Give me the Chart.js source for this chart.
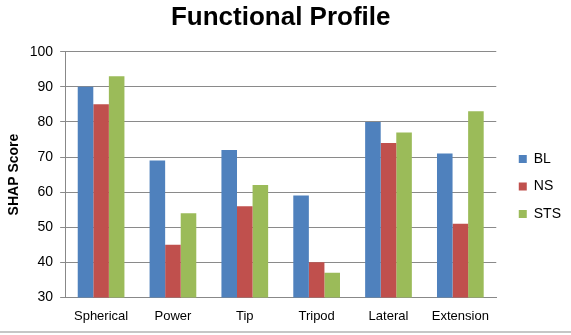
<!DOCTYPE html>
<html>
<head>
<meta charset="utf-8">
<script src="https://cdn.jsdelivr.net/npm/chart.js@4/dist/chart.umd.min.js"></script>
<style>
  html, body { margin: 0; padding: 0; background: #fff; }
  #wrap { position: relative; width: 571px; height: 335px; }
  #line { position: absolute; left: 0; top: 331px; width: 571px; height: 2px; background: #c6c6c6; }
</style>
</head>
<body>
<div id="wrap">
  <canvas id="c" width="571" height="335"></canvas>
  <div id="line"></div>
</div>
<script>
// grip types and SHAP scores per group
const categories = ['Spherical', 'Power', 'Tip', 'Tripod', 'Lateral', 'Extension'];
const blScores  = [90, 69, 72, 59, 80, 71];
const nsScores  = [85, 45, 56, 40, 74, 51];
const stsScores = [93, 54, 62, 37, 77, 83];
const yTicks = [30, 40, 50, 60, 70, 80, 90, 100];

const font = 'Liberation Sans, Arial, sans-serif';

const chart = new Chart(document.getElementById('c'), {
    type: 'bar',
    data: {
        labels: categories,
        datasets: [
            { label: 'BL', data: blScores, backgroundColor: '#4f81bd' },
            { label: 'NS', data: nsScores, backgroundColor: '#c0504d' },
            { label: 'STS', data: stsScores, backgroundColor: '#9bbb59' },
        ]
    },
    options: {
        responsive: false, animation: false,
        layout: { padding: { left: 6, right: 0, top: 2, bottom: 3 } },
        datasets: { bar: { categoryPercentage: 0.65, barPercentage: 1.0 } },
        scales: {
            x: {
                grid: { display: false, tickLength: 3 },
                border: { display: true, color: '#888', width: 1 },
                ticks: { color: '#000', font: { family: font, size: 13 }, padding: 8 }
            },
            y: {
                min: 30, max: 100,
                afterBuildTicks: s => { s.ticks = yTicks.map(v => ({ value: v })); },
                grid: { color: '#8a8a8a', lineWidth: 1, tickLength: 5 },
                border: { display: true, color: '#888', width: 1 },
                ticks: { color: '#000', font: { family: font, size: 14 }, padding: 7 },
                title: { display: true, text: 'SHAP Score', color: '#000', font: { family: font, size: 14, weight: 'bold' }, padding: { top: 0, bottom: 0 } }
            },
            // empty spacer between plot and legend
            gap: {
                position: 'right', display: true,
                grid: { display: false, drawTicks: false }, border: { display: false },
                ticks: { display: false },
                afterFit: s => { s.width = 9; }
            }
        },
        plugins: {
            title: { display: true, fullSize: false, text: 'Functional Profile', color: '#000', font: { family: font, size: 26, weight: 'bold' }, padding: { top: 0, bottom: 18.5 } },
            legend: {
                position: 'right',
                title: { display: true, text: ' ', font: { family: font, size: 14 }, padding: 11 },
                labels: { boxWidth: 8, boxHeight: 8, color: '#000', font: { family: font, size: 14 }, padding: 13.5 }
            },
            tooltip: { enabled: false }
        }
    }
});
</script>
</body>
</html>
